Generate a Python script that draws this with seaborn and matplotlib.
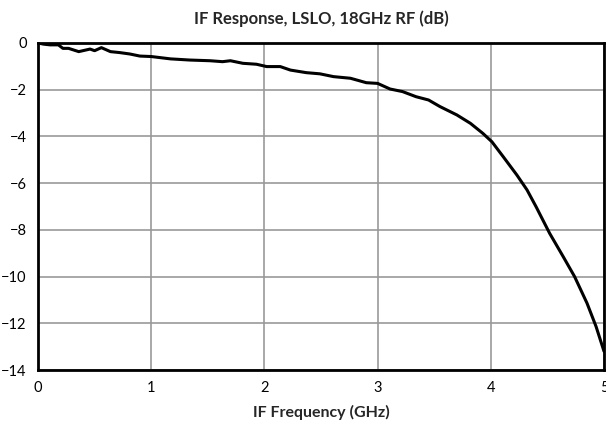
import matplotlib
matplotlib.use("Agg")
import matplotlib.pyplot as plt
import seaborn as sns
import pandas as pd

freq_ghz = [0.0, 0.05, 0.106, 0.18, 0.22, 0.27, 0.36, 0.46, 0.50, 0.56, 0.64, 0.72, 0.81, 0.90,
            1.0, 1.17, 1.34, 1.52, 1.63, 1.70, 1.81, 1.93, 2.02, 2.14, 2.23, 2.37, 2.49, 2.61,
            2.76, 2.90, 3.0, 3.11, 3.22, 3.34, 3.45, 3.55, 3.70, 3.82, 3.93, 4.01, 4.11, 4.23,
            4.32, 4.40, 4.52, 4.64, 4.74, 4.85, 4.93, 5.0]
response_db = [0.0, -0.05, -0.08, -0.08, -0.23, -0.23, -0.37, -0.26, -0.33, -0.2, -0.37, -0.41,
               -0.47, -0.56, -0.58, -0.68, -0.73, -0.76, -0.8, -0.76, -0.87, -0.91, -1.01, -1.01,
               -1.16, -1.27, -1.32, -1.44, -1.51, -1.70, -1.73, -1.97, -2.08, -2.30, -2.44, -2.72,
               -3.08, -3.44, -3.87, -4.23, -4.87, -5.65, -6.29, -7.01, -8.15, -9.15, -10.0,
               -11.14, -12.14, -13.2]

sns.set_theme(style="white")
plt.rcParams['font.family'] = ['Lato', 'DejaVu Sans']

df = pd.DataFrame({"freq": freq_ghz, "db": response_db})

fig = plt.figure(figsize=(6.06, 4.29), dpi=100)
ax = fig.add_axes([0.0627, 0.1375, 0.934, 0.7623])
sns.lineplot(data=df, x="freq", y="db", ax=ax, color="black", linewidth=2.2, zorder=3)

ax.set_xlim(0, 5)
ax.set_ylim(-14, 0)
ax.set_xticks(range(0, 6))
ax.set_yticks(range(-14, 1, 2))
ax.grid(True, color="#999999", linewidth=1.2)
for s in ax.spines.values():
    s.set_color("black")
    s.set_linewidth(2)
ax.tick_params(axis="both", labelsize=10.5, colors="black", length=0, pad=8)
ax.set_xlabel("IF Frequency (GHz)", fontsize=11.5, fontweight="bold", labelpad=7)
ax.set_ylabel("")
ax.set_title("IF Response, LSLO, 18GHz RF (dB)", fontsize=12, fontweight="bold", pad=14)

fig.savefig("out.png", dpi=100)
